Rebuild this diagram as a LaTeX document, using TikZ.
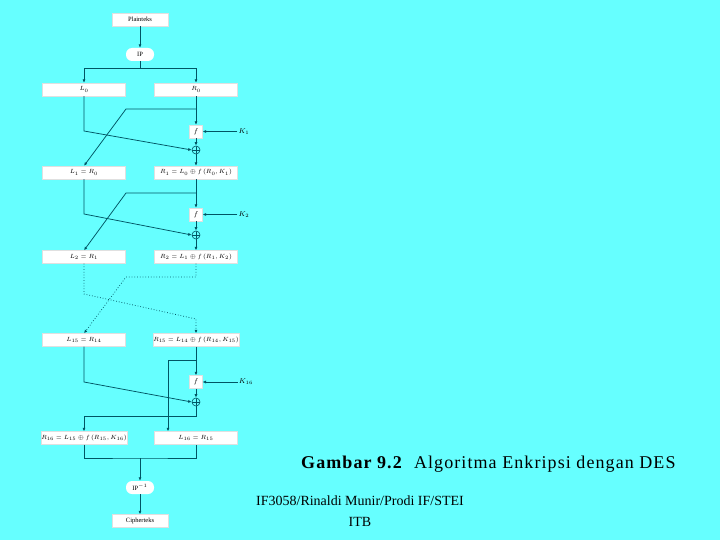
\documentclass[tikz,border=0pt]{standalone}
\usepackage{fontspec}
\setmainfont{Liberation Serif}
\usetikzlibrary{arrows.meta}

\definecolor{bgcyan}{RGB}{102,255,255}
\definecolor{ln}{RGB}{0,85,100}

\begin{document}
\begin{tikzpicture}[
  x=1pt,
  y=-1pt,
  blk/.style={fill=white,draw=black!12,line width=0.3pt,minimum width=83pt,minimum height=13pt,inner sep=0pt,font=\fontsize{6}{7}\selectfont},
  perm/.style={fill=white,draw=none,rounded corners=6pt,minimum width=28pt,minimum height=13pt,inner sep=0pt,font=\fontsize{6.5}{7}\selectfont},
  fbx/.style={fill=white,draw=black!12,line width=0.3pt,minimum size=13pt,inner sep=0pt,font=\fontsize{7}{7}\selectfont},
  xr/.style={circle,draw=ln,line width=0.6pt,minimum size=8pt,inner sep=0pt,
    path picture={\draw[ln,line width=0.5pt] (path picture bounding box.north) -- (path picture bounding box.south)
      (path picture bounding box.west) -- (path picture bounding box.east);}},
  lab/.style={inner sep=1pt,font=\fontsize{7}{7}\selectfont},
  link/.style={draw=ln,line width=0.75pt},
  flow/.style={link,-{Latex[length=3.5pt,width=3pt]}}
]
\fill[bgcyan] (0,0) rectangle (720,540);

% input
\node[blk,minimum width=56pt,font=\fontsize{6.5}{7}\selectfont] (plain) at (140,19.5) {Plainteks};
\node[perm] (ip) at (140,54.5) {IP};
\node[blk] (L0) at (84,89.5) {$L_{0}$};
\node[blk] (R0) at (196,89.5) {$R_{0}$};
\coordinate (t0) at (140,68);
\draw[flow] (plain) -- (ip);
\draw[link] (ip.south) -- (t0);
\draw[flow] (t0) -| (L0.north);
\draw[flow] (t0) -| (R0.north);

% round 1
\node[fbx] (f1) at (196,131.5) {$f$};
\node[xr] (x1) at (196,150) {};
\node[lab] (K1) at (244,131.5) {$K_{1}$};
\node[blk] (L1) at (84,172.5) {$L_{1} = R_{0}$};
\node[blk] (R1) at (196,172.5) {$R_{1} = L_{0} \oplus f\,(R_{0}, K_{1})$};
\coordinate (a1) at (84,131);
\coordinate (b1) at (196,109);
\coordinate (c1) at (126,109);
\draw[flow] (L0.south) -- (a1) -- (x1.west);
\draw[flow] (R0.south) -- (f1.north);
\draw[flow] (b1) -- (c1) -- (L1.north);
\draw[flow] (f1.south) -- (x1.north);
\draw[flow] (x1.south) -- (R1.north);
\draw[flow] (K1.west) -- (f1.east);

% round 2
\node[fbx] (f2) at (196,214.5) {$f$};
\node[xr] (x2) at (196,235) {};
\node[lab] (K2) at (244,214.5) {$K_{2}$};
\node[blk] (L2) at (84,257) {$L_{2} = R_{1}$};
\node[blk] (R2) at (196,257) {$R_{2} = L_{1} \oplus f\,(R_{1}, K_{2})$};
\coordinate (a2) at (84,214);
\coordinate (b2) at (196,193);
\coordinate (c2) at (126,193);
\draw[flow] (L1.south) -- (a2) -- (x2.west);
\draw[flow] (R1.south) -- (f2.north);
\draw[flow] (b2) -- (c2) -- (L2.north);
\draw[flow] (f2.south) -- (x2.north);
\draw[flow] (x2.south) -- (R2.north);
\draw[flow] (K2.west) -- (f2.east);

% rounds 3 to 15, dotted
\node[blk] (L15) at (84,340) {$L_{15} = R_{14}$};
\node[blk] (R15) at (196,340) {$R_{15} = L_{14} \oplus f\,(R_{14}, K_{15})$};
\coordinate (a3) at (84,294);
\coordinate (e3) at (196,319);
\coordinate (b3) at (196,277);
\coordinate (c3) at (126,277);
\draw[flow,dotted] (L2.south) -- (a3) -- (e3) -- (R15.north);
\draw[flow,dotted] (R2.south) -- (b3) -- (c3) -- (L15.north);

% round 16
\node[fbx] (f16) at (196,382) {$f$};
\node[xr] (x16) at (196,402) {};
\node[lab] (K16) at (246,382) {$K_{16}$};
\node[blk] (R16) at (84,438) {$R_{16} = L_{15} \oplus f\,(R_{15}, K_{16})$};
\node[blk] (L16) at (196,438) {$L_{16} = R_{15}$};
\coordinate (a16) at (84,382);
\coordinate (b16) at (196,360);
\coordinate (c16) at (168,360);
\coordinate (d16) at (196,416);
\draw[flow] (L15.south) -- (a16) -- (x16.west);
\draw[flow] (R15.south) -- (f16.north);
\draw[flow] (b16) -- (c16) -- (c16 |- L16.north);
\draw[flow] (f16.south) -- (x16.north);
\draw[flow] (x16.south) -- (d16) -| (R16.north);
\draw[flow,line width=0.4pt] (K16.west) -- (f16.east);

% output
\node[perm] (ipi) at (140,487.5) {IP$^{-1}$};
\node[blk,minimum width=56pt,font=\fontsize{6.5}{7}\selectfont] (cipher) at (140,521) {Cipherteks};
\coordinate (m) at (140,458);
\draw[link] (R16.south) |- (m) -| (L16.south);
\draw[flow] (m) -- (ipi.north);
\draw[flow] (ipi) -- (cipher);

% caption
\node[anchor=base west,inner sep=0pt,font=\fontsize{18}{20}\selectfont\addfontfeature{LetterSpace=6}] (cap) at (301,468)
  {\textbf{Gambar 9.2}\ \ Algoritma Enkripsi dengan DES};
\node[anchor=base,inner sep=0pt,font=\fontsize{14}{16}\selectfont] (foot) at (360,505)
  {IF3058/Rinaldi Munir/Prodi IF/STEI};
\node[anchor=base,inner sep=0pt,font=\fontsize{14}{16}\selectfont] (itb) at (360,526) {ITB};
\end{tikzpicture}
\end{document}
